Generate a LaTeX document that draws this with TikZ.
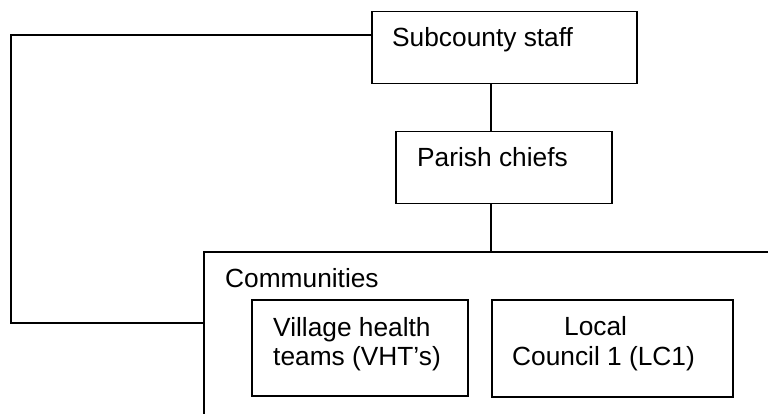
\documentclass[tikz,border=0pt]{standalone}
\usepackage{fontspec}
\setmainfont{Liberation Sans}
\begin{document}
\begin{tikzpicture}[x=1pt,y=-1pt,
  box/.style={draw, line width=1.5pt, inner sep=0pt, anchor=north west},
  lbl/.style={anchor=base west, inner sep=0pt, font=\fontsize{26.3}{30}\selectfont},
  conn/.style={line width=1.5pt}]
\useasboundingbox (0,0) rectangle (768,414);
\clip (0,0) rectangle (768,414);
% boxes
\node[box, minimum width=265pt, minimum height=72pt] (sub) at (371,11) {};
\node[box, minimum width=216pt, minimum height=72pt] (par) at (395,131) {};
\node[box, minimum width=620pt, minimum height=220pt] (comm) at (203,251) {};
\node[box, minimum width=216pt, minimum height=96pt] (vht) at (251,299) {};
\node[box, minimum width=241pt, minimum height=97pt] (lc) at (491,299) {};
% labels
\node[lbl] (subt) at (392,47) {Subcounty staff};
\node[lbl] (part) at (417,167) {Parish chiefs};
\node[lbl] (commt) at (225,287) {Communities};
\node[lbl] (vhta) at (273,336) {Village health};
\node[lbl] (vhtb) at (273,365) {teams (VHT’s)};
\node[lbl] (lca) at (564,335) {Local};
\node[lbl] (lcb) at (512,365) {Council 1 (LC1)};
% connectors
\coordinate (v) at (491,0);
\coordinate (l) at (11,35);
\coordinate (lb) at (11,323);
\draw[conn] (v |- sub.south) -- (v |- par.north);
\draw[conn] (v |- par.south) -- (v |- comm.north);
\draw[conn] (l -| sub.west) -- (l) -- (lb) -- (lb -| comm.west);
\end{tikzpicture}
\end{document}
